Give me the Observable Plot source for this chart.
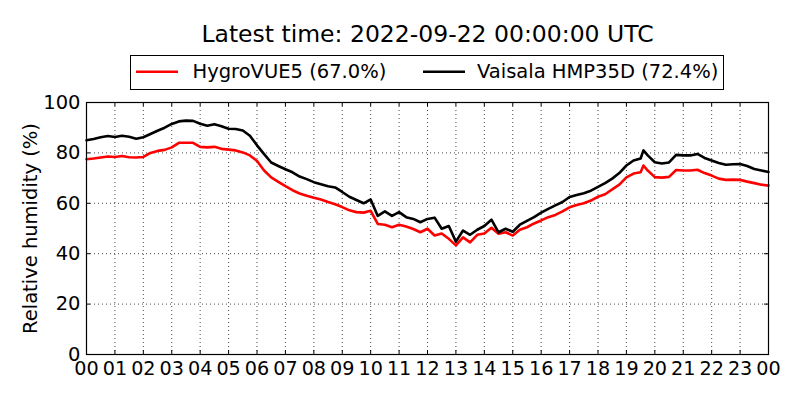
<!DOCTYPE html>
<html>
<head>
<meta charset="utf-8">
<script src="https://cdn.jsdelivr.net/npm/d3@7"></script>
<script src="https://cdn.jsdelivr.net/npm/@observablehq/plot@0.6"></script>
<style>
  html, body { margin: 0; padding: 0; background: #fff; }
  #wrap { width: 800px; height: 400px; position: relative; font-family: "DejaVu Sans", sans-serif; }
  #wrap svg { display: block; }
</style>
</head>
<body>
<div id="wrap"></div>
<script>
const titleText = "Latest time: 2022-09-22 00:00:00 UTC";
const yLabel = "Relative humidity (%)";
const seriesNames = ["HygroVUE5", "Vaisala HMP35D"];
const seriesColors = ["#ff0000", "#000000"];
const xTicks = [0,1,2,3,4,5,6,7,8,9,10,11,12,13,14,15,16,17,18,19,20,21,22,23,24];
const yTicks = [0,20,40,60,80,100];

const hours = [0,0.25,0.5,0.75,1,1.25,1.5,1.75,2,2.25,2.5,2.75,3,3.25,3.5,3.75,4,4.25,4.5,4.75,
  5,5.25,5.5,5.75,6,6.25,6.5,6.75,7,7.25,7.5,7.75,8,8.25,8.5,8.75,9,9.25,9.5,9.75,
  10,10.25,10.5,10.75,11,11.25,11.5,11.75,12,12.25,12.5,12.75,13,13.25,13.5,13.75,14,14.25,14.5,14.75,
  15,15.25,15.5,15.75,16,16.25,16.5,16.75,17,17.25,17.5,17.75,18,18.25,18.5,18.75,19,19.25,19.5,19.6,
  19.75,20,20.25,20.5,20.75,21,21.25,21.5,21.75,22,22.25,22.5,22.75,23,23.25,23.5,23.75,24];

const hygro = [77.5,77.8,78.2,78.6,78.4,78.8,78.3,78.2,78.4,80.0,80.8,81.2,82.2,84.0,84.0,84.0,82.4,82.2,82.4,81.6,
  81.3,81.0,80.2,79.0,76.8,73.0,70.3,68.5,66.8,65.2,63.9,63.0,62.2,61.5,60.5,59.6,58.5,57.2,56.5,56.3,
  57.0,51.8,51.5,50.5,51.5,50.8,49.8,48.5,49.9,47.2,48.0,45.9,43.3,46.5,44.5,47.5,48.0,50.3,47.9,48.5,
  47.2,49.5,50.5,52.0,53.2,54.5,55.4,56.8,58.4,59.3,60.0,61.1,62.6,63.6,65.5,67.4,70.3,71.8,72.3,75.0,
  73.0,70.4,70.2,70.5,73.2,73.0,73.0,73.3,72.0,71.0,69.8,69.3,69.4,69.3,68.6,68.0,67.4,67.0];

const vaisala = [85.0,85.5,86.2,86.7,86.3,86.8,86.4,85.6,86.2,87.5,88.8,90.0,91.5,92.5,92.8,92.7,91.6,90.8,91.4,90.6,
  89.6,89.5,88.9,86.8,83.0,79.5,76.2,74.8,73.5,72.3,70.6,69.6,68.4,67.6,66.8,66.3,64.5,62.6,61.3,60.0,
  61.5,55.0,56.8,55.0,56.5,54.5,53.8,52.5,53.8,54.3,49.9,51.0,44.8,49.2,47.5,49.5,51.0,53.5,48.5,49.9,
  48.7,51.5,53.0,54.5,56.3,57.8,59.2,60.5,62.5,63.3,64.0,65.0,66.5,68.0,69.8,72.0,75.0,77.0,77.8,81.0,
  79.0,76.3,75.8,76.2,79.2,79.0,79.0,79.6,78.0,77.0,76.0,75.3,75.5,75.6,74.8,73.6,73.0,72.4];

const seriesValues = [hygro, vaisala];
const rows = [];
seriesValues.forEach((vals, s) => {
  vals.forEach((v, i) => rows.push({h: hours[i], v, s: seriesNames[s]}));
});

const wrap = document.getElementById("wrap");
const NS = "http://www.w3.org/2000/svg";

// Header: title + legend
const head = document.createElementNS(NS, "svg");
head.setAttribute("width", 800);
head.setAttribute("height", 92);
head.setAttribute("font-family", "DejaVu Sans, sans-serif");
function el(tag, attrs, text) {
  const e = document.createElementNS(NS, tag);
  for (const k in attrs) e.setAttribute(k, attrs[k]);
  if (text != null) e.textContent = text;
  head.appendChild(e);
  return e;
}
el("text", {x: 427.5, y: 42.3, "text-anchor": "middle", "font-size": "23.5px", fill: "#000"}, titleText);
el("rect", {x: 130.5, y: 55.5, width: 593, height: 34, fill: "#fff", stroke: "#000", "stroke-width": 1});
const legendLineX = [136, 423];
const legendTextX = [192.5, 477];
seriesNames.forEach((name, i) => {
  const last = seriesValues[i][seriesValues[i].length - 1];
  el("line", {x1: legendLineX[i], x2: legendLineX[i] + 42, y1: 71.7, y2: 71.7, stroke: seriesColors[i], "stroke-width": 2.6});
  el("text", {x: legendTextX[i], y: 78.3, "font-size": "19.5px", fill: "#000"}, `${name} (${last.toFixed(1)}%)`);
});
wrap.appendChild(head);

const innerW = 800 - 86 - 32;
const innerH = 308 - 10 - 46;
const fmt = d => String(d % 24).padStart(2, "0");

const chart = Plot.plot({
  width: 800,
  height: 308,
  marginLeft: 86,
  marginRight: 32,
  marginTop: 10,
  marginBottom: 46,
  style: {fontFamily: "DejaVu Sans, sans-serif", fontSize: "19.5px", color: "#000", background: "#fff", overflow: "visible"},
  x: {domain: [0, 24], ticks: xTicks},
  y: {domain: [0, 100], ticks: yTicks},
  color: {domain: seriesNames, range: seriesColors},
  marks: [
    Plot.gridX(xTicks, {stroke: "#000", strokeOpacity: 0.9, strokeDasharray: "1,3", strokeWidth: 0.8}),
    Plot.gridY(yTicks, {stroke: "#000", strokeOpacity: 0.9, strokeDasharray: "1,3", strokeWidth: 0.8}),
    Plot.tickX(xTicks, {x: d => d, insetTop: innerH - 4, stroke: "#000"}),
    Plot.tickX(xTicks, {x: d => d, insetBottom: innerH - 4, stroke: "#000"}),
    Plot.tickY(yTicks, {y: d => d, insetRight: innerW - 4, stroke: "#000"}),
    Plot.tickY(yTicks, {y: d => d, insetLeft: innerW - 4, stroke: "#000"}),
    Plot.line(rows, {x: "h", y: "v", z: "s", stroke: "s", strokeWidth: 2.6, strokeLinejoin: "round"}),
    Plot.frame({stroke: "#000", strokeWidth: 1.2}),
    Plot.axisX(xTicks, {tickSize: 0, tickPadding: 7.2, tickFormat: fmt, fill: "#000", label: null, fontSize: 19.2}),
    Plot.axisY(yTicks, {tickSize: 0, tickPadding: 6, fill: "#000", label: null}),
    Plot.text([yLabel], {frameAnchor: "left", text: d => d, rotate: -90, dx: -56, textAnchor: "middle", lineAnchor: "middle", fill: "#000", fontSize: 19.5})
  ]
});
wrap.appendChild(chart);
</script>
</body>
</html>
